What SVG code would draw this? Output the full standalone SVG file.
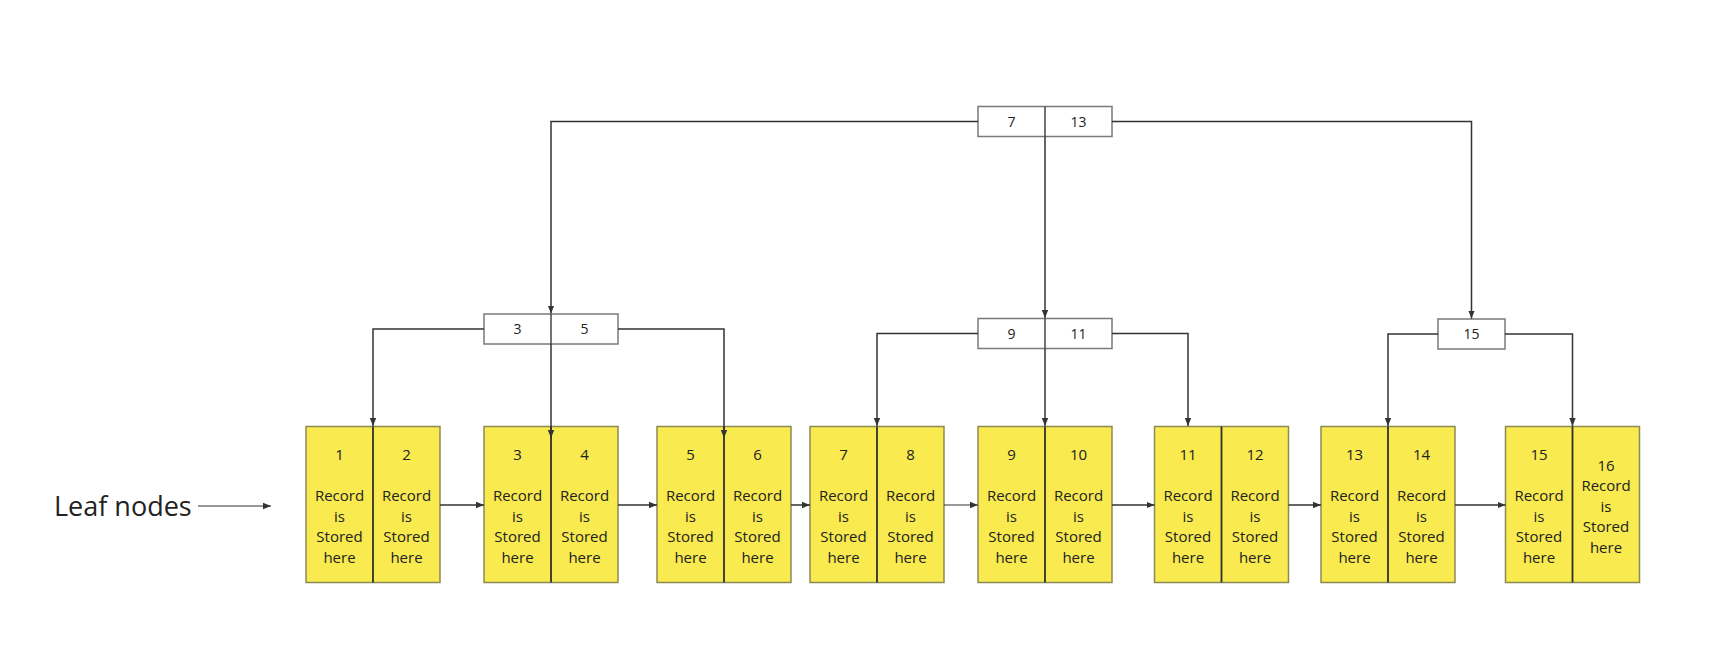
<svg xmlns="http://www.w3.org/2000/svg" width="1728" height="646" viewBox="0 0 1728 646">
<style>
.bg{fill:#ffffff}
.key{fill:#ffffff;stroke:#7a7a7a;stroke-width:1.5}
.leaf{fill:#F8EA4F;stroke:#8d8a55;stroke-width:1.5}
.div{stroke:#2f2f2f;stroke-width:1.8}
.kdiv{stroke:#444;stroke-width:1.5}
.t{font-family:"Open Sans","Noto Sans","Liberation Sans",sans-serif;font-size:14px;fill:#222;text-anchor:middle}
.lt{font-family:"Open Sans","Noto Sans","Liberation Sans",sans-serif;font-size:15px;fill:#222;text-anchor:middle}
.lbl{font-family:"Open Sans","Noto Sans","Liberation Sans",sans-serif;font-size:27px;fill:#222}
.c{fill:none;stroke:#333;stroke-width:1.5}
.cl{fill:none;stroke:#333;stroke-width:1.2}
</style>
<defs>
<marker id="ah" markerUnits="userSpaceOnUse" markerWidth="8" markerHeight="8" viewBox="0 0 8 8" refX="8" refY="4" orient="auto">
<path d="M0,0.8 L8,4 L0,7.2 Z" fill="#333"/>
</marker>
</defs>
<rect class="bg" x="0" y="0" width="1728" height="646"/>

<g id="label-leaf-nodes">
<text class="lbl" x="54" y="516">Leaf nodes</text>
</g>

<g id="root">
<rect class="key" x="978" y="106.5" width="134" height="30"/>
<line class="kdiv" x1="1045" y1="106.5" x2="1045" y2="136.5"/>
<text class="t" x="1011.5" y="126.5">7</text>
<text class="t" x="1078.5" y="126.5">13</text>
</g>

<g id="inner-3-5">
<rect class="key" x="484" y="314" width="134" height="30"/>
<line class="kdiv" x1="551" y1="314" x2="551" y2="344"/>
<text class="t" x="517.5" y="334">3</text>
<text class="t" x="584.5" y="334">5</text>
</g>

<g id="inner-9-11">
<rect class="key" x="978" y="318.5" width="134" height="30"/>
<line class="kdiv" x1="1045" y1="318.5" x2="1045" y2="348.5"/>
<text class="t" x="1011.5" y="338.5">9</text>
<text class="t" x="1078.5" y="338.5">11</text>
</g>

<g id="inner-15">
<rect class="key" x="1438" y="319" width="67" height="30"/>
<text class="t" x="1471.5" y="339">15</text>
</g>

<g id="leaf-1-2">
<rect class="leaf" x="306" y="426.5" width="134" height="156"/>
<line class="div" x1="373" y1="426.5" x2="373" y2="582.5"/>
<text class="lt" x="339.5" y="460">1</text>
<text class="lt" x="339.5" y="501">Record</text><text class="lt" x="339.5" y="522">is</text><text class="lt" x="339.5" y="542">Stored</text><text class="lt" x="339.5" y="562.5">here</text>
<text class="lt" x="406.5" y="460">2</text>
<text class="lt" x="406.5" y="501">Record</text><text class="lt" x="406.5" y="522">is</text><text class="lt" x="406.5" y="542">Stored</text><text class="lt" x="406.5" y="562.5">here</text>
</g>

<g id="leaf-3-4">
<rect class="leaf" x="484" y="426.5" width="134" height="156"/>
<line class="div" x1="551" y1="426.5" x2="551" y2="582.5"/>
<text class="lt" x="517.5" y="460">3</text>
<text class="lt" x="517.5" y="501">Record</text><text class="lt" x="517.5" y="522">is</text><text class="lt" x="517.5" y="542">Stored</text><text class="lt" x="517.5" y="562.5">here</text>
<text class="lt" x="584.5" y="460">4</text>
<text class="lt" x="584.5" y="501">Record</text><text class="lt" x="584.5" y="522">is</text><text class="lt" x="584.5" y="542">Stored</text><text class="lt" x="584.5" y="562.5">here</text>
</g>

<g id="leaf-5-6">
<rect class="leaf" x="657" y="426.5" width="134" height="156"/>
<line class="div" x1="724" y1="426.5" x2="724" y2="582.5"/>
<text class="lt" x="690.5" y="460">5</text>
<text class="lt" x="690.5" y="501">Record</text><text class="lt" x="690.5" y="522">is</text><text class="lt" x="690.5" y="542">Stored</text><text class="lt" x="690.5" y="562.5">here</text>
<text class="lt" x="757.5" y="460">6</text>
<text class="lt" x="757.5" y="501">Record</text><text class="lt" x="757.5" y="522">is</text><text class="lt" x="757.5" y="542">Stored</text><text class="lt" x="757.5" y="562.5">here</text>
</g>

<g id="leaf-7-8">
<rect class="leaf" x="810" y="426.5" width="134" height="156"/>
<line class="div" x1="877" y1="426.5" x2="877" y2="582.5"/>
<text class="lt" x="843.5" y="460">7</text>
<text class="lt" x="843.5" y="501">Record</text><text class="lt" x="843.5" y="522">is</text><text class="lt" x="843.5" y="542">Stored</text><text class="lt" x="843.5" y="562.5">here</text>
<text class="lt" x="910.5" y="460">8</text>
<text class="lt" x="910.5" y="501">Record</text><text class="lt" x="910.5" y="522">is</text><text class="lt" x="910.5" y="542">Stored</text><text class="lt" x="910.5" y="562.5">here</text>
</g>

<g id="leaf-9-10">
<rect class="leaf" x="978" y="426.5" width="134" height="156"/>
<line class="div" x1="1045" y1="426.5" x2="1045" y2="582.5"/>
<text class="lt" x="1011.5" y="460">9</text>
<text class="lt" x="1011.5" y="501">Record</text><text class="lt" x="1011.5" y="522">is</text><text class="lt" x="1011.5" y="542">Stored</text><text class="lt" x="1011.5" y="562.5">here</text>
<text class="lt" x="1078.5" y="460">10</text>
<text class="lt" x="1078.5" y="501">Record</text><text class="lt" x="1078.5" y="522">is</text><text class="lt" x="1078.5" y="542">Stored</text><text class="lt" x="1078.5" y="562.5">here</text>
</g>

<g id="leaf-11-12">
<rect class="leaf" x="1154.5" y="426.5" width="134" height="156"/>
<line class="div" x1="1221.5" y1="426.5" x2="1221.5" y2="582.5"/>
<text class="lt" x="1188" y="460">11</text>
<text class="lt" x="1188" y="501">Record</text><text class="lt" x="1188" y="522">is</text><text class="lt" x="1188" y="542">Stored</text><text class="lt" x="1188" y="562.5">here</text>
<text class="lt" x="1255" y="460">12</text>
<text class="lt" x="1255" y="501">Record</text><text class="lt" x="1255" y="522">is</text><text class="lt" x="1255" y="542">Stored</text><text class="lt" x="1255" y="562.5">here</text>
</g>

<g id="leaf-13-14">
<rect class="leaf" x="1321" y="426.5" width="134" height="156"/>
<line class="div" x1="1388" y1="426.5" x2="1388" y2="582.5"/>
<text class="lt" x="1354.5" y="460">13</text>
<text class="lt" x="1354.5" y="501">Record</text><text class="lt" x="1354.5" y="522">is</text><text class="lt" x="1354.5" y="542">Stored</text><text class="lt" x="1354.5" y="562.5">here</text>
<text class="lt" x="1421.5" y="460">14</text>
<text class="lt" x="1421.5" y="501">Record</text><text class="lt" x="1421.5" y="522">is</text><text class="lt" x="1421.5" y="542">Stored</text><text class="lt" x="1421.5" y="562.5">here</text>
</g>

<g id="leaf-15-16">
<rect class="leaf" x="1505.5" y="426.5" width="134" height="156"/>
<line class="div" x1="1572.5" y1="426.5" x2="1572.5" y2="582.5"/>
<text class="lt" x="1539" y="460">15</text>
<text class="lt" x="1539" y="501">Record</text><text class="lt" x="1539" y="522">is</text><text class="lt" x="1539" y="542">Stored</text><text class="lt" x="1539" y="562.5">here</text>
<text class="lt" x="1606" y="470.5">16</text>
<text class="lt" x="1606" y="491">Record</text><text class="lt" x="1606" y="512">is</text><text class="lt" x="1606" y="532">Stored</text><text class="lt" x="1606" y="552.5">here</text>
</g>

<g id="connectors">
<!-- root -->
<path class="c" d="M978,121.5 H551 V313.5" marker-end="url(#ah)"/>
<path class="c" d="M1112,121.5 H1471.5 V318.5" marker-end="url(#ah)"/>
<path class="c" d="M1045,136.5 V318" marker-end="url(#ah)"/>
<!-- 3|5 -->
<path class="c" d="M484,329 H373 V426" marker-end="url(#ah)"/>
<path class="c" d="M551,344 V438" marker-end="url(#ah)"/>
<path class="c" d="M618,329 H724 V438" marker-end="url(#ah)"/>
<!-- 9|11 -->
<path class="c" d="M978,333.5 H877 V426" marker-end="url(#ah)"/>
<path class="c" d="M1045,348.5 V426" marker-end="url(#ah)"/>
<path class="c" d="M1112,333.5 H1188 V426" marker-end="url(#ah)"/>
<!-- 15 -->
<path class="c" d="M1438,334 H1388 V426" marker-end="url(#ah)"/>
<path class="c" d="M1505,334 H1572.5 V426" marker-end="url(#ah)"/>
<!-- leaf links -->
<path class="c" d="M440,505 H484" marker-end="url(#ah)"/>
<path class="c" d="M618,505 H657" marker-end="url(#ah)"/>
<path class="c" d="M791,505 H810" marker-end="url(#ah)"/>
<path class="cl" d="M944,505 H978" marker-end="url(#ah)"/>
<path class="c" d="M1112,505 H1154.5" marker-end="url(#ah)"/>
<path class="c" d="M1288.5,505 H1321" marker-end="url(#ah)"/>
<path class="c" d="M1455,505 H1505.5" marker-end="url(#ah)"/>
<!-- label arrow -->
<path class="cl" d="M198,506 H271" marker-end="url(#ah)"/>
</g>
</svg>
